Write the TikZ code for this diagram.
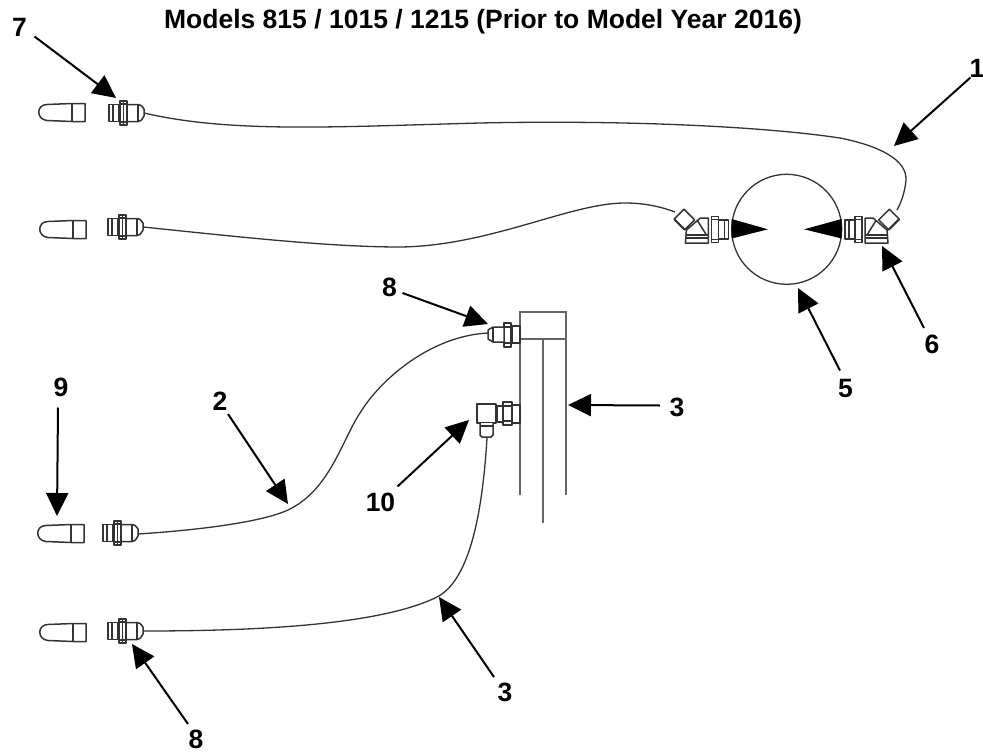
\documentclass[tikz,border=0pt]{standalone}
\usepackage{fontspec}
\setmainfont{Liberation Sans}
\usetikzlibrary{arrows.meta}
\definecolor{ink}{HTML}{333333}
\tikzset{
  x=1pt,y=-1pt,
  part/.style={draw=ink,line width=1.5pt,fill=white,line join=round},
  hose/.style={draw=ink,line width=1.3pt},
  post/.style={draw=black!60,line width=1.7pt},
  callout/.style={draw=black,line width=2pt,-{Triangle[length=23pt,width=22pt]}},
  lab/.style={font=\fontsize{26.5}{30}\selectfont\bfseries,text=black,inner sep=0pt},
  cap/.pic={
    \draw[part] (34,-8.5) -- (9,-7.5) .. controls (-2,-7.5) and (-2,7.5) .. (9,8.5) -- (34,9.5) -- (47,9.5) -- (47,-8.5) -- cycle;
    \draw[part] (34,-8.5) -- (34,9.5);
  },
  fit/.pic={
    \draw[part] (0,-8.5) rectangle (10,8.5);
    \draw[part] (4,-8.5) -- (4,8.5);
    \draw[part] (18,-8.5) -- (29,-8.5) .. controls (32,-8) .. (35,-4) -- (35,3) .. controls (32,8) .. (29,8.5) -- (18,8.5) -- cycle;
    \draw[part] (29,-8.5) -- (29,8.5);
    \draw[part] (11,-12) rectangle (18,12);
    \draw[part] (14.5,-12) -- (14.5,12);
    \draw[part] (11,-9) -- (18,-9) (11,9) -- (18,9);
  },
  elbowfit/.pic={
    \draw[part] (0,-9.5) rectangle (10,9.5);
    \draw[part] (4,-9.5) -- (4,9.5);
    \draw[part] (10,-13) rectangle (17,13);
    \draw[part] (10,-10) -- (17,-10) (10,10) -- (17,10);
    \begin{scope}[shift={(44,-10)},rotate=45]
      \draw[part] (-7.5,-7) rectangle (7.5,7);
      \draw[draw=ink,line width=2pt] (-7.5,7) -- (7.5,7);
    \end{scope}
    \draw[part] (20,-11.5) -- (28,-11.5) -- (42,0.5) -- (43,13.5) -- (20,13.5) -- cycle;
    \draw[part] (20,5.5) -- (42,5.5) (20,8.5) -- (42.5,8.5);
    \draw[part] (22,5.5) -- (31,-9);
  },
}
\begin{document}
\begin{tikzpicture}
\useasboundingbox (0,0) rectangle (983,752);

% caps
\pic at (38,112) {cap};
\pic at (39,229) {cap};
\pic at (37,533) {cap};
\pic at (39,632) {cap};

% end fittings
\pic at (109,113) {fit};
\pic at (108,227) {fit};
\pic at (103,533) {fit};
\pic at (108,631) {fit};

% coordinates
\coordinate (h1a) at (144,113);
\coordinate (h1b) at (897,210);
\coordinate (h2a) at (143,227);
\coordinate (h2b) at (675,212);
\coordinate (h3a) at (138,534);
\coordinate (h3b) at (488,333);
\coordinate (h4a) at (143,631);
\coordinate (h4b) at (487,438);

% hoses
\draw[hose] (h1a) .. controls (230,133) and (330,127) .. (480,123)
  .. controls (620,120) and (760,126) .. (840,138)
  .. controls (880,146) and (907,160) .. (906,180)
  .. controls (905,192) and (901,203) .. (h1b);
\draw[hose] (h2a) .. controls (240,237) and (330,247) .. (400,247)
  .. controls (490,246) and (570,203) .. (625,203)
  .. controls (645,203) and (662,207) .. (h2b);
\draw[hose] (h3a) .. controls (200,530) and (262,522) .. (288,510)
  .. controls (330,490) and (342,440) .. (360,413)
  .. controls (380,380) and (430,336) .. (h3b);
\draw[hose] (h4a) .. controls (230,631) and (375,628) .. (437,597)
  .. controls (468,581) and (482,520) .. (h4b);

% gauge
\node[circle,draw=ink,line width=1.3pt,minimum size=110pt,inner sep=0pt] (gauge) at (786.7,229.3) {};
\fill[black] (731.7,219) -- (768,229.3) -- (731.7,238.5) -- cycle;
\fill[black] (841.7,219) -- (804,229.3) -- (841.7,238.5) -- cycle;
\pic at (845,229.5) {elbowfit};
\pic[xscale=-1] at (728.4,229.5) {elbowfit};

% column
\draw[post] (520,495) -- (520,312) -- (566,312) -- (566,495);
\draw[post] (520,339) -- (566,339);
\draw[post] (543,339) -- (543,523);

% top fitting on column
\draw[part] (512,326) rectangle (520,343);
\draw[part] (504,323) rectangle (511,347);
\draw[part] (504,327) -- (511,327) (504,343) -- (511,343);
\draw[part] (504,327) -- (493,327) -- (488,330) -- (488,339) -- (493,342) -- (504,342) -- cycle;
\draw[part] (493,327) -- (493,342);

% elbow on column
\draw[part] (512,405) rectangle (520,423);
\draw[part] (503,402) rectangle (512,425);
\draw[part] (503,406) -- (512,406) (503,421) -- (512,421);
\draw[part] (497,406) rectangle (503,422);
\draw[part] (477,404) rectangle (496,423);
\draw[part] (480,423) -- (480,435) -- (482,437) -- (491,437) -- (493,435) -- (493,423);
\draw[part] (480,426) -- (493,426);

% callout coordinates
\coordinate (t7) at (34.5,36.5);   \coordinate (p7) at (116,98);
\coordinate (t1) at (970.5,77.5);  \coordinate (p1) at (894,146);
\coordinate (t6) at (924,328);     \coordinate (p6) at (882,246);
\coordinate (t5) at (840,370.5);   \coordinate (p5) at (798,288);
\coordinate (t8a) at (402.5,293);  \coordinate (p8a) at (488,324);
\coordinate (t3a) at (660,405.5);  \coordinate (p3a) at (568,405);
\coordinate (t10) at (397.5,486.5);\coordinate (p10) at (469,420);
\coordinate (t2) at (228,414);     \coordinate (p2) at (288,504);
\coordinate (t9) at (58,407.5);    \coordinate (p9) at (57,516);
\coordinate (t3b) at (494,677);    \coordinate (p3b) at (439,597);
\coordinate (t8b) at (188,724);    \coordinate (p8b) at (132,644);

\foreach \a/\b in {t7/p7,t1/p1,t6/p6,t5/p5,t8a/p8a,t3a/p3a,t10/p10,t2/p2,t9/p9,t3b/p3b,t8b/p8b}
  \draw[callout] (\a) -- (\b);

% labels
\node[lab,anchor=base] (title) at (483,29) {Models 815 / 1015 / 1215 (Prior to Model Year 2016)};
\node[lab] (l7) at (19.5,27) {7};
\node[lab] (l1) at (977,68.5) {1};
\node[lab] (l6) at (932,344) {6};
\node[lab] (l5) at (845.5,388.5) {5};
\node[lab] (l8a) at (389.5,287) {8};
\node[lab] (l3a) at (677,407) {3};
\node[lab] (l10) at (380.5,502) {10};
\node[lab] (l2) at (220,401) {2};
\node[lab] (l9) at (61,387) {9};
\node[lab] (l3b) at (505,692.5) {3};
\node[lab] (l8b) at (196,739) {8};
\end{tikzpicture}
\end{document}
